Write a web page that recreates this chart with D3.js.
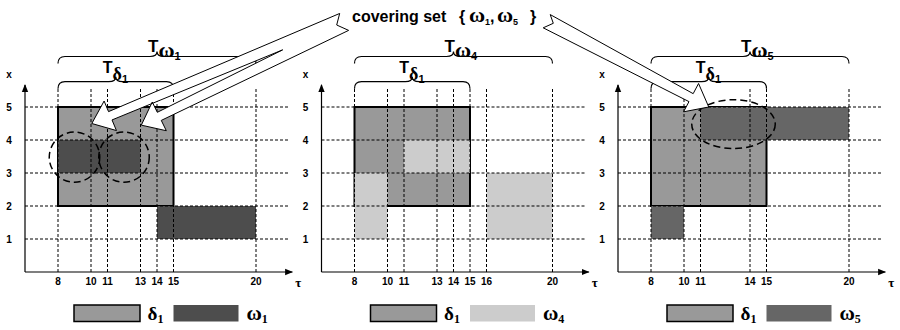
<!DOCTYPE html>
<html>
<head>
<meta charset="utf-8">
<script src="https://cdn.jsdelivr.net/npm/d3@7"></script>
<style>
body { margin: 0; background: #fff; }
svg { display: block; }
text { font-family: Arial, "Liberation Sans", sans-serif; font-weight: bold; fill: #000; }
.greek { font-family: "Times New Roman", "Liberation Serif", serif; font-weight: bold; }
</style>
</head>
<body>
<div id="chart"></div>
<script>
// values
const panelNames = ["ω1", "ω4", "ω5"];
const panelSubs = ["1", "4", "5"];
const tauTicks = [
    [8, 10, 11, 13, 14, 15, 20],
    [8, 10, 11, 13, 14, 15, 16, 20],
    [8, 10, 11, 14, 15, 20]
];
const xTicks = [1, 2, 3, 4, 5];
// [tauStart, tauEnd, xLow, xHigh]
const delta1Rect = [8, 15, 2, 5];
const omegaRects = [
    [[8, 13, 3, 4], [14, 20, 1, 2]],
    [[8, 10, 1, 3], [11, 15, 3, 4], [16, 20, 1, 3]],
    [[11, 20, 4, 5], [8, 10, 1, 2]]
];
const omegaSpan = [8, 20];
// dashed ellipses [panel, tau, x, rTau, rX]
const ellipses = [
    [0, 9.0, 3.48, 1.53, 0.76],
    [0, 12.0, 3.48, 1.53, 0.76],
    [2, 13.0, 4.48, 2.53, 0.74]
];
// arrow tips [panel, tau, x]
const arrowTips = [[0, 10.05, 4.5], [0, 13.05, 4.45], [2, 11.5, 5.0]];

const deltaColor = "#999999";
const omegaColors = ["#4d4d4d", "#cccccc", "#666666"];

const svg = d3.select("#chart").append("svg")
    .attr("width", 900)
    .attr("height", 330);

const origins = [25, 321.5, 618];
const unit = 16.5;
const y = d3.scaleLinear().domain([0, 5]).range([272, 107]);
const xScales = origins.map(function(o) {
    return d3.scaleLinear().domain([6, 22]).range([o, o + 16 * unit]);
});

svg.append("defs").append("marker")
    .attr("id", "head")
    .attr("viewBox", "0 0 10 10")
    .attr("refX", 9).attr("refY", 5)
    .attr("markerWidth", 8).attr("markerHeight", 8)
    .attr("markerUnits", "userSpaceOnUse")
    .attr("orient", "auto")
    .append("path").attr("d", "M0,1 L10,5 L0,9 Z").attr("fill", "#000");

function brace(x0, x1, yl, h, tip) {
    var xm = (x0 + x1) / 2, r = 7;
    return "M" + x0 + "," + (yl + h) +
        " Q" + x0 + "," + yl + " " + (x0 + r) + "," + yl +
        " L" + (xm - r) + "," + yl +
        " Q" + xm + "," + yl + " " + xm + "," + (yl - tip) +
        " Q" + xm + "," + yl + " " + (xm + r) + "," + yl +
        " L" + (x1 - r) + "," + yl +
        " Q" + x1 + "," + yl + " " + x1 + "," + (yl + h);
}

function subLabel(g, x, yb, main, sub, size, subSize, dy) {
    var t = g.append("text").attr("x", x).attr("y", yb).attr("class", "greek")
        .style("font-size", size + "px");
    t.append("tspan").text(main);
    t.append("tspan").attr("dy", dy).style("font-size", subSize + "px").text(sub);
}

// "T" with a greek subscript and a digit, kept in one text element
function periodLabel(g, x, yb, tSize, greek, gSize, gDy, digit, dSize, dDy) {
    var t = g.append("text").attr("x", x).attr("y", yb).style("font-size", tSize + "px");
    t.append("tspan").text("T");
    t.append("tspan").attr("class", "greek").attr("dy", gDy)
        .style("font-size", gSize + "px").text(greek);
    t.append("tspan").attr("dy", dDy).style("font-size", dSize + "px").text(digit);
}

origins.forEach(function(o, i) {
    var x = xScales[i];
    var g = svg.append("g");
    var tEnd = 22;

    // delta1 box
    g.append("rect")
        .attr("x", x(delta1Rect[0]))
        .attr("y", y(delta1Rect[3]))
        .attr("width", x(delta1Rect[1]) - x(delta1Rect[0]))
        .attr("height", y(delta1Rect[2]) - y(delta1Rect[3]))
        .attr("fill", deltaColor)
        .attr("stroke", "#000")
        .attr("stroke-width", 2);

    // omega boxes
    g.selectAll("rect.om")
        .data(omegaRects[i])
        .join("rect")
        .attr("class", "om")
        .attr("x", function(d) { return x(d[0]); })
        .attr("y", function(d) { return y(d[3]); })
        .attr("width", function(d) { return x(d[1]) - x(d[0]); })
        .attr("height", function(d) { return y(d[2]) - y(d[3]); })
        .attr("fill", omegaColors[i]);

    // dashed grid
    g.selectAll("line.hg")
        .data(xTicks)
        .join("line")
        .attr("x1", x(6)).attr("x2", x(tEnd))
        .attr("y1", function(d) { return y(d); })
        .attr("y2", function(d) { return y(d); })
        .attr("stroke", "#000").attr("stroke-width", 1)
        .attr("stroke-dasharray", "3,2");
    g.selectAll("line.vg")
        .data(tauTicks[i])
        .join("line")
        .attr("x1", function(d) { return x(d); })
        .attr("x2", function(d) { return x(d); })
        .attr("y1", y(0)).attr("y2", 88)
        .attr("stroke", "#000").attr("stroke-width", 1)
        .attr("stroke-dasharray", "3,2");

    // axes
    g.append("line")
        .attr("x1", x(6)).attr("y1", y(0)).attr("x2", x(22.2)).attr("y2", y(0))
        .attr("stroke", "#000").attr("stroke-width", 1.2)
        .attr("marker-end", "url(#head)");
    g.append("line")
        .attr("x1", x(6)).attr("y1", y(0)).attr("x2", x(6)).attr("y2", y(5.67))
        .attr("stroke", "#000").attr("stroke-width", 1.2)
        .attr("marker-end", "url(#head)");

    g.selectAll("text.tt")
        .data(tauTicks[i])
        .join("text")
        .attr("x", function(d) { return x(d); })
        .attr("y", 285)
        .attr("text-anchor", "middle")
        .style("font-size", "10px")
        .text(function(d) { return d; });
    g.selectAll("text.xt")
        .data(xTicks)
        .join("text")
        .attr("x", o - 16)
        .attr("y", function(d) { return y(d) + 4; })
        .attr("text-anchor", "middle")
        .style("font-size", "10px")
        .text(function(d) { return d; });
    g.append("text").attr("x", o - 16).attr("y", 78)
        .attr("text-anchor", "middle").style("font-size", "10px").text("x");
    g.append("text").attr("x", x(22.2) + 6).attr("y", 287).attr("class", "greek")
        .attr("text-anchor", "middle").style("font-size", "13px").text("τ");

    // braces
    var b0 = x(omegaSpan[0]), b1 = x(omegaSpan[1]);
    g.append("path").attr("d", brace(b0, b1, 56.5, 7, 5))
        .attr("fill", "none").attr("stroke", "#000").attr("stroke-width", 1.2);
    var d0 = x(delta1Rect[0]), d1 = x(delta1Rect[1]);
    g.append("path").attr("d", brace(d0, d1, 81.7, 7, 5))
        .attr("fill", "none").attr("stroke", "#000").attr("stroke-width", 1.2);

    var bm = (b0 + b1) / 2, dm = (d0 + d1) / 2;
    periodLabel(g, bm - 9, 52, 17, panelNames[i].charAt(0), 22, 5, panelSubs[i], 11, 3);
    periodLabel(g, dm - 13, 73, 16, "δ", 18, 7, "1", 11, 3);

    // legend
    g.append("rect").attr("x", o + 49).attr("y", 305).attr("width", 66).attr("height", 16.5)
        .attr("fill", deltaColor).attr("stroke", "#000").attr("stroke-width", 1.5);
    subLabel(g, o + 122.5, 320, "δ", "1", 19, 12, 3);
    g.append("rect").attr("x", o + 148.5).attr("y", 305).attr("width", 65).attr("height", 16.5)
        .attr("fill", omegaColors[i]);
    subLabel(g, o + 221.5, 320, "ω", panelSubs[i], 21, 12, 3);
});

// dashed ellipses
svg.selectAll("ellipse")
    .data(ellipses)
    .join("ellipse")
    .attr("cx", function(d) { return xScales[d[0]](d[1]); })
    .attr("cy", function(d) { return y(d[2]); })
    .attr("rx", function(d) { return d[3] * unit; })
    .attr("ry", function(d) { return y(0) - y(d[4]); })
    .attr("fill", "none").attr("stroke", "#000").attr("stroke-width", 1.5)
    .attr("stroke-dasharray", "7,4");

// hollow callout arrows (tapered shaft, notched tail)
function arrowGeom(tc, tip, wt, wh, hw, hl) {
    var dx = tip[0] - tc[0], dy = tip[1] - tc[1];
    var L = Math.hypot(dx, dy), ux = dx / L, uy = dy / L, nx = -uy, ny = ux;
    var bx = tip[0] - ux * hl, by = tip[1] - uy * hl;
    return {
        tTop: [tc[0] + nx * wt, tc[1] + ny * wt],
        bTop: [bx + nx * wh, by + ny * wh],
        hTop: [bx + nx * hw, by + ny * hw],
        tip: tip,
        hBot: [bx - nx * hw, by - ny * hw],
        bBot: [bx - nx * wh, by - ny * wh],
        tBot: [tc[0] - nx * wt, tc[1] - ny * wt]
    };
}
function intersect(p1, p2, p3, p4) {
    var d = (p1[0] - p2[0]) * (p3[1] - p4[1]) - (p1[1] - p2[1]) * (p3[0] - p4[0]);
    var a = p1[0] * p2[1] - p1[1] * p2[0], b = p3[0] * p4[1] - p3[1] * p4[0];
    return [(a * (p3[0] - p4[0]) - (p1[0] - p2[0]) * b) / d,
            (a * (p3[1] - p4[1]) - (p1[1] - p2[1]) * b) / d];
}
var tips = arrowTips.map(function(a) { return [xScales[a[0]](a[1]), y(a[2])]; });
var g1 = arrowGeom([342, 19], tips[0], 6, 4.5, 16, 20);
var g2 = arrowGeom([346, 25], tips[1], 6, 4.5, 16, 20);
var g3 = arrowGeom([546.7, 21.2], tips[2], 7.5, 4.5, 16, 20);
var X = intersect(g1.bBot, g1.tBot, g2.tTop, g2.bTop);
var leftShape = [g1.tTop, g1.bTop, g1.hTop, g1.tip, g1.hBot, g1.bBot, X,
    g2.bTop, g2.hTop, g2.tip, g2.hBot, g2.bBot, g2.tBot, [336.7, 25]];
var rightShape = [g3.tTop, g3.bTop, g3.hTop, g3.tip, g3.hBot, g3.bBot, g3.tBot, [553.3, 23.3]];
var poly = d3.line().curve(d3.curveLinearClosed);
svg.append("g").selectAll("path")
    .data([leftShape, rightShape])
    .join("path")
    .attr("d", poly)
    .attr("fill", "#fff").attr("stroke", "#000").attr("stroke-width", 1)
    .attr("stroke-linejoin", "miter");

// callout text
var ct = svg.append("text").attr("y", 22).style("font-size", "16px");
ct.append("tspan").attr("x", 352).text("covering set");
ct.append("tspan").attr("x", 459).text("{");
ct.append("tspan").attr("x", 469).attr("class", "greek").style("font-size", "22px").text("ω");
ct.append("tspan").attr("dy", 3).style("font-size", "9px").text("1");
ct.append("tspan").attr("dy", -3).text(",");
ct.append("tspan").attr("x", 497).attr("class", "greek").style("font-size", "22px").text("ω");
ct.append("tspan").attr("dy", 3).style("font-size", "9px").text("5");
ct.append("tspan").attr("x", 530).attr("dy", -3).text("}");
</script>
</body>
</html>
